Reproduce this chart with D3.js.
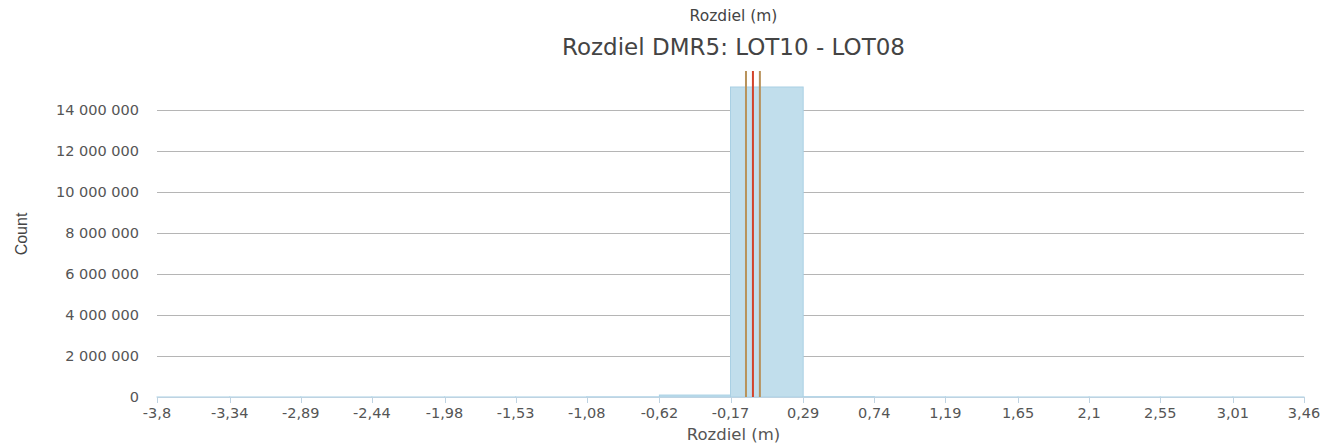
<!DOCTYPE html>
<html>
<head>
<meta charset="utf-8">
<script src="https://cdn.jsdelivr.net/npm/d3@7"></script>
<style>
  body { margin: 0; background: #fff; }
  svg { display: block; }
</style>
</head>
<body>
<div id="chart"></div>
<script>
// Data
const binEdgeLabels = ["-3,8", "-3,34", "-2,89", "-2,44", "-1,98", "-1,53", "-1,08", "-0,62", "-0,17",
  "0,29", "0,74", "1,19", "1,65", "2,1", "2,55", "3,01", "3,46"];
const binCounts = [300, 200, 300, 400, 600, 1500, 8000, 95000, 15120000, 15000, 3000, 1200, 600, 400, 300, 200];
const yTicks = [0, 2000000, 4000000, 6000000, 8000000, 10000000, 12000000, 14000000];
// mean - std, mean, mean + std
const statLines = [
  { value: -0.072, color: "#b8925a" },
  { value: -0.028, color: "#d2432b" },
  { value: 0.016, color: "#b8925a" }
];

const width = 1322;
const height = 446;
const margin = { top: 87, right: 18, bottom: 49, left: 157 };

const edges = binEdgeLabels.map(s => +s.replace(",", "."));

const x = d3.scaleLinear()
  .domain([edges[0], edges[edges.length - 1]])
  .range([margin.left, width - margin.right]);

const y = d3.scaleLinear()
  .domain([0, 15120000])
  .range([height - margin.bottom, margin.top]);

const svg = d3.select("#chart").append("svg")
  .attr("width", width)
  .attr("height", height)
  .attr("font-family", "'DejaVu Sans', Verdana, sans-serif");

const cx = x(-0.17) + 3;

// Titles
svg.append("text")
  .attr("x", cx)
  .attr("y", 21)
  .attr("text-anchor", "middle")
  .attr("font-size", 15.5)
  .attr("fill", "#444")
  .text("Rozdiel (m)");

svg.append("text")
  .attr("x", cx)
  .attr("y", 55)
  .attr("text-anchor", "middle")
  .attr("font-size", 23)
  .attr("fill", "#444")
  .text("Rozdiel DMR5: LOT10 - LOT08");

// Grid lines + y labels
const yAxis = svg.append("g");
yAxis.selectAll("line")
  .data(yTicks.filter(d => d > 0))
  .join("line")
  .attr("x1", margin.left)
  .attr("x2", width - margin.right)
  .attr("y1", d => Math.round(y(d)) + 0.5)
  .attr("y2", d => Math.round(y(d)) + 0.5)
  .attr("stroke", "#b5b5b5");

yAxis.selectAll("text")
  .data(yTicks)
  .join("text")
  .attr("x", 139)
  .attr("y", d => y(d))
  .attr("dy", "0.35em")
  .attr("text-anchor", "end")
  .attr("font-size", 14.5)
  .attr("fill", "#555")
  .text(d => d3.format(",")(d).replace(/,/g, " "));

svg.append("text")
  .attr("transform", `translate(27,234) rotate(-90)`)
  .attr("text-anchor", "middle")
  .attr("font-family", "'Liberation Sans Narrow', 'Liberation Sans', Arial, sans-serif")
  .attr("font-size", 16)
  .attr("fill", "#444")
  .text("Count");

// Bars
svg.append("g")
  .selectAll("rect")
  .data(binCounts)
  .join("rect")
  .attr("x", (d, i) => x(edges[i]))
  .attr("width", (d, i) => x(edges[i + 1]) - x(edges[i]))
  .attr("y", d => y(d))
  .attr("height", d => y(0) - y(d))
  .attr("fill", "#c1deec")
  .attr("stroke", "#a9d0e4")
  .attr("stroke-width", 1);

// X axis
const xAxis = svg.append("g")
  .attr("transform", `translate(0,${y(0)})`);
xAxis.append("line")
  .attr("x1", margin.left)
  .attr("x2", width - margin.right)
  .attr("y1", 0.5)
  .attr("y2", 0.5)
  .attr("stroke", "#bed3e2");
xAxis.selectAll(".tick")
  .data(edges)
  .join("line")
  .attr("class", "tick")
  .attr("x1", d => Math.round(x(d)) + 0.5)
  .attr("x2", d => Math.round(x(d)) + 0.5)
  .attr("y1", 0)
  .attr("y2", 6)
  .attr("stroke", "#bed3e2");
xAxis.selectAll("text")
  .data(binEdgeLabels)
  .join("text")
  .attr("x", (d, i) => x(edges[i]))
  .attr("y", 21)
  .attr("text-anchor", "middle")
  .attr("font-size", 14.5)
  .attr("fill", "#555")
  .text(d => d);

svg.append("text")
  .attr("x", cx)
  .attr("y", height - 6)
  .attr("text-anchor", "middle")
  .attr("font-size", 16.5)
  .attr("fill", "#555")
  .text("Rozdiel (m)");

// Statistic lines
svg.append("g")
  .selectAll("line")
  .data(statLines)
  .join("line")
  .attr("x1", d => x(d.value))
  .attr("x2", d => x(d.value))
  .attr("y1", 71)
  .attr("y2", y(0))
  .attr("stroke", d => d.color)
  .attr("stroke-width", 2);
</script>
</body>
</html>
